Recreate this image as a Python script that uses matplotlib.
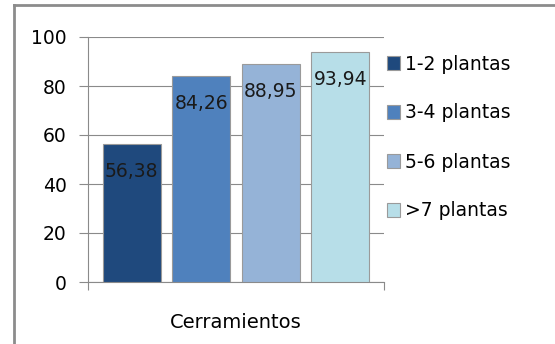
import matplotlib
matplotlib.use("Agg")
import matplotlib.pyplot as plt
from matplotlib.lines import Line2D
from matplotlib.patches import Patch

# data
series = ["1-2 plantas", "3-4 plantas", "5-6 plantas", ">7 plantas"]
values = [56.38, 84.26, 88.95, 93.94]
category = "Cerramientos"
colors = ["#1F497D", "#4F81BD", "#95B3D7", "#B7DEE8"]
yticks = [0, 20, 40, 60, 80, 100]

plt.rcParams['font.family'] = ['DejaVu Sans']
fs = 13.5
grid_c = "#8a8a8a"

fig = plt.figure(figsize=(5.55, 3.44), dpi=100)
ax = fig.add_axes([88/555, 62/344, 296/555, 245/344])

x = list(range(len(series)))
bars = ax.bar(x, values, width=0.835, color=colors, edgecolor="#9a9a9a",
              linewidth=0.8, zorder=3)

for xi, v in zip(x, values):
    ax.annotate(f"{v:.2f}".replace(".", ","), (xi, v), xytext=(0, -20),
                textcoords="offset points", ha="center", va="center",
                fontsize=fs, color="#1a1a1a", zorder=4)

ax.set_xlim(-0.63, 3.63)
ax.set_ylim(0, 100)
ax.set_yticks(yticks)
ax.set_yticklabels([str(t) for t in yticks], fontsize=fs)
ax.yaxis.grid(True, color=grid_c, linewidth=0.8, zorder=0)
ax.tick_params(axis="y", length=6.5, width=0.8, color=grid_c, pad=9)

ax.set_xticks([1.5])
ax.set_xticklabels([category], fontsize=14)
ax.tick_params(axis="x", which="major", length=0, pad=22)
ax.set_xticks([-0.63, 3.63], minor=True)
ax.tick_params(axis="x", which="minor", length=6, width=0.8, color=grid_c)

for s in ["top", "right"]:
    ax.spines[s].set_visible(False)
for s in ["left", "bottom"]:
    ax.spines[s].set_color(grid_c)
    ax.spines[s].set_linewidth(0.8)

handles = [Patch(facecolor=c, edgecolor="#9a9a9a", linewidth=0.8) for c in colors]
fig.legend(handles, series, loc="upper left", bbox_to_anchor=(379/555, 1 - 47/344),
           frameon=False, fontsize=fs, handlelength=0.7, handleheight=0.7,
           handletextpad=0.3, labelspacing=1.6, borderaxespad=0)

# outer chart border (top and left visible)
fig.add_artist(Line2D([14/555, 14/555], [0, 1 - 4.5/344], transform=fig.transFigure,
                      color="#8c8c8c", linewidth=2))
fig.add_artist(Line2D([14/555, 1], [1 - 4.5/344, 1 - 4.5/344], transform=fig.transFigure,
                      color="#8c8c8c", linewidth=2))

fig.savefig("out.png", dpi=100)
